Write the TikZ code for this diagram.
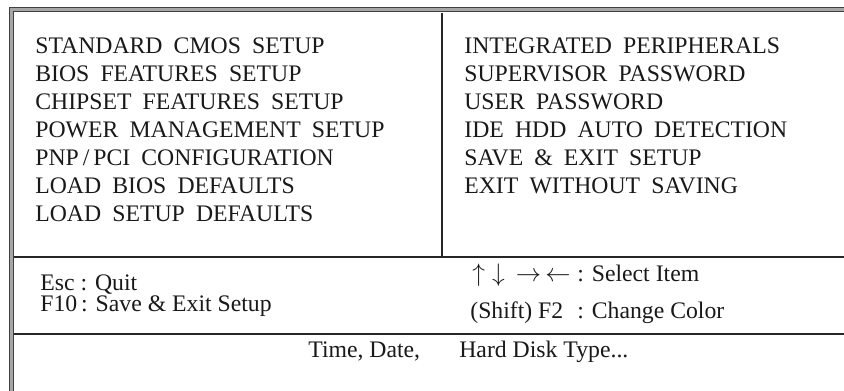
\documentclass[tikz,border=0pt]{standalone}
\usepackage{fontspec}
\setmainfont{Liberation Serif}
\usetikzlibrary{positioning}

\newcommand\biosfont{\fontsize{13.5}{16}\selectfont}
\newcommand\menufont{\biosfont\spaceskip=.47em\relax}

\begin{document}
\begin{tikzpicture}[
    frame/.style={draw=black!75, double=black!35, double distance=1.7pt, line width=0.85pt},
    rule/.style={draw=black!85, line width=1pt},
    item/.style={anchor=base west, inner sep=0pt, font=\menufont, text=black!90},
    hotkey/.style={anchor=base west, inner sep=0pt, font=\biosfont, text=black!90},
]
\clip (0,0) rectangle (16.88,-7.82);

% ========== Frame ==========
\draw[frame] (0.23,-8) -- (0.23,-0.19) -- (17,-0.19);
\draw[rule] (8.84,-0.25) -- (8.84,-5.14);
\draw[rule] (0.29,-5.14) -- (17,-5.14);
\draw[rule] (0.29,-6.68) -- (17,-6.68);

% ========== Main menu ==========
\foreach \lab [count=\i from 0] in {STANDARD CMOS SETUP, BIOS FEATURES SETUP,
    CHIPSET FEATURES SETUP, POWER MANAGEMENT SETUP, PNP\,/\,PCI CONFIGURATION,
    LOAD BIOS DEFAULTS, LOAD SETUP DEFAULTS} {
    \node[item] (left\i) at (0.70, {-1.06 - 0.56*\i}) {\lab};
}
\foreach \lab [count=\i from 0] in {INTEGRATED PERIPHERALS, SUPERVISOR PASSWORD,
    USER PASSWORD, IDE HDD AUTO DETECTION, SAVE \& EXIT SETUP, EXIT WITHOUT SAVING} {
    \node[item] (right\i) at (9.28, {-1.06 - 0.56*\i}) {\lab};
}

% ========== Hot keys ==========
\node[hotkey] (esc) at (0.80, -5.80) {Esc : Quit};
\node[hotkey] (f10) at (0.80, -6.22) {F10\,: Save \& Exit Setup};
\node[hotkey] (arrows) at (9.44, -5.62) {$\uparrow\;\downarrow\;\,\rightarrow\,\leftarrow$};
\node[hotkey] (select) at (11.54, -5.62) {: Select Item};
\node[hotkey] (shift) at (9.40, -6.36) {(Shift) F2};
\node[hotkey] (color) at (11.54, -6.36) {: Change Color};

% ========== Status line ==========
\node[hotkey] (timedate) at (6.16, -7.14) {Time, Date,};
\node[hotkey] (hdtype) at (9.18, -7.14) {Hard Disk Type...};

\end{tikzpicture}
\end{document}
